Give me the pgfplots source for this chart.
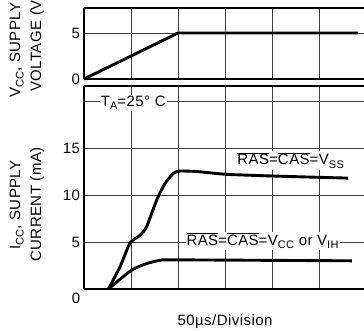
\documentclass[border=0pt]{standalone}
\usepackage{pgfplots}
\pgfplotsset{compat=1.18}
\usepackage{fontspec}
\setmainfont{Liberation Sans}[LetterSpace=3]
\newcommand{\lbl}{\fontsize{15pt}{17pt}\selectfont}
\newcommand{\sub}[1]{\raisebox{-0.45ex}{\fontsize{11pt}{12pt}\selectfont #1}}
\begin{document}
\begin{tikzpicture}[font=\lbl]
\pgfplotsset{
  panel/.style={
    scale only axis, width=280pt, xmin=0, xmax=5.96,
    xtick={1,2,3,4,5}, xticklabels={},
    major tick length=0pt,
    grid=major, grid style={black!75, line width=0.7pt},
    axis y line*=left,
    axis line style={line width=1.6pt},
    /pgf/number format/assume math mode=true,
    yticklabel style={font=\lbl, xshift=-0.5pt},
    clip=false,
  }
}
\begin{axis}[panel, at={(84pt,-79pt)}, anchor=south west, height=71pt,
  ymin=0, ymax=7.72, ytick={0,5}]
\addplot[black, line width=2.9pt] coordinates {(0,0) (2,5) (5.83,5)};
\end{axis}
\begin{axis}[panel, at={(84pt,-289pt)}, anchor=south west, height=203pt,
  ymin=0, ymax=21.6, ytick={0,5,10,15,20}, yticklabels={{},5,10,15,{}}]
\addplot[black, line width=2.9pt, smooth, tension=0.35] coordinates {
  (0.52,0) (0.77,2.4) (0.98,4.9) (1.19,5.7) (1.33,6.6) (1.55,9.5) (1.72,11.2)
  (1.90,12.3) (2.04,12.55) (2.40,12.5) (3.04,12.2) (4.17,12.0) (5.62,11.8)};
\addplot[black, line width=2.9pt, smooth, tension=0.4] coordinates {
  (0.52,0) (1.01,2.0) (1.33,2.7) (1.62,3.05) (1.97,3.1) (5.70,3.0)};
\node[anchor=east, inner sep=0pt] at (axis cs:0,0) [xshift=-3.5pt, yshift=-9pt] {0};
\node[fill=white, inner sep=1pt, anchor=base] at (axis cs:1.05,20) [yshift=-5pt] {T\sub{A}=25° C};
\node[fill=white, inner sep=1pt, anchor=base] at (axis cs:4.40,13.2) {$\overline{\mbox{RAS}}$=$\overline{\mbox{CAS}}$=V\sub{SS}};
\node[fill=white, inner sep=1pt, anchor=base] at (axis cs:3.80,4.68) {$\overline{\mbox{RAS}}$=$\overline{\mbox{CAS}}$=V\sub{CC} or V\sub{IH}};
\end{axis}
\node[anchor=base] at (225pt,-325pt) {50µs/Division};
\node[rotate=90, anchor=base west, inner sep=0pt] at (20pt,-98pt) {V\sub{CC}, SUPPLY};
\node[rotate=90, anchor=base west, inner sep=0pt] at (41pt,-92pt) {VOLTAGE (V)};
\node[rotate=90, anchor=base west, inner sep=0pt] at (20pt,-250pt) {I\sub{CC}, SUPPLY};
\node[rotate=90, anchor=base west, inner sep=0pt] at (41pt,-262pt) {CURRENT (mA)};
\pgfresetboundingbox
\useasboundingbox (0pt,0pt) rectangle (364pt,-330pt);
\end{tikzpicture}
\end{document}
